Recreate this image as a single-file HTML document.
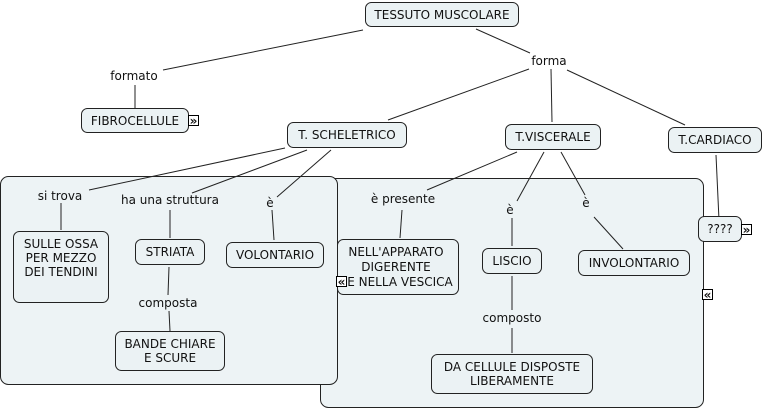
<!DOCTYPE html>
<html><head><meta charset="utf-8"><style>
body{margin:0;background:#fff;}
svg{display:block;font-family:"DejaVu Sans","Liberation Sans",sans-serif;font-size:12px;}
.n{fill:#ebf2f4;stroke:#222;stroke-width:1;}
.c{fill:#edf3f5;stroke:#222;stroke-width:1;}
line{stroke:#222;stroke-width:1;}
text{fill:#111;text-anchor:middle;}
.ic{fill:#fff;stroke:#000;stroke-width:1;}
.g{font-size:12px;font-weight:bold;}
</style></head><body>
<svg width="765" height="409" viewBox="0 0 765 409">
<rect class="c" x="320.5" y="178.5" width="383" height="229" rx="8"/>
<rect class="c" x="0.5" y="176.5" width="337" height="208" rx="8"/>
<g>
<line x1="363" y1="30" x2="163" y2="70"/>
<line x1="135" y1="85" x2="135" y2="108"/>
<line x1="476" y1="29" x2="530" y2="53"/>
<line x1="529" y1="69" x2="388" y2="120"/>
<line x1="551" y1="69" x2="552" y2="122"/>
<line x1="567" y1="70" x2="685" y2="125"/>
<line x1="285" y1="148" x2="89" y2="190"/>
<line x1="307" y1="150" x2="192" y2="193"/>
<line x1="331" y1="150" x2="277" y2="197"/>
<line x1="61" y1="203" x2="61" y2="230"/>
<line x1="170" y1="210" x2="170" y2="238"/>
<line x1="272" y1="210" x2="274" y2="240"/>
<line x1="169" y1="267" x2="168" y2="295"/>
<line x1="169" y1="311" x2="170" y2="331"/>
<line x1="517" y1="152" x2="427" y2="190"/>
<line x1="402" y1="210" x2="400" y2="238"/>
<line x1="544" y1="152" x2="517" y2="201"/>
<line x1="512" y1="218" x2="512" y2="246"/>
<line x1="561" y1="152" x2="585" y2="195"/>
<line x1="594" y1="217" x2="623" y2="249"/>
<line x1="512" y1="276" x2="512" y2="310"/>
<line x1="512" y1="328" x2="512" y2="353"/>
<line x1="716" y1="155" x2="719" y2="220"/>
</g>
<rect class="n" x="365.5" y="2.5" width="153" height="24" rx="6"/>
<text x="442" y="19">TESSUTO MUSCOLARE</text>
<text x="134" y="80">formato</text>
<rect class="n" x="81.5" y="108.5" width="107" height="24" rx="6"/>
<text x="135" y="125">FIBROCELLULE</text>
<rect class="ic" x="188.5" y="115.5" width="10" height="10"/><text class="g" x="193.5" y="125">»</text>
<text x="549" y="65">forma</text>
<rect class="n" x="287.5" y="122.5" width="119" height="25" rx="6"/>
<text x="347" y="139">T. SCHELETRICO</text>
<rect class="n" x="505.5" y="124.5" width="95" height="25" rx="6"/>
<text x="553" y="141">T.VISCERALE</text>
<rect class="n" x="668.5" y="127.5" width="93" height="25" rx="6"/>
<text x="715" y="144">T.CARDIACO</text>
<rect class="n" x="698.5" y="216.5" width="43" height="25" rx="6"/>
<text x="720" y="233">????</text>
<rect class="ic" x="741.5" y="224.5" width="10" height="10"/><text class="g" x="746.5" y="234">»</text>
<rect class="ic" x="702.5" y="289.5" width="10" height="10"/><text class="g" x="707.5" y="299">«</text>
<text x="60" y="200">si trova</text>
<text x="170" y="204">ha una struttura</text>
<text x="270" y="207">è</text>
<rect class="n" x="13.5" y="231.5" width="95" height="71" rx="6"/>
<text x="61" y="248">SULLE OSSA</text>
<text x="61" y="262">PER MEZZO</text>
<text x="61" y="276">DEI TENDINI</text>
<rect class="n" x="135.5" y="239.5" width="69" height="25" rx="6"/>
<text x="170" y="256">STRIATA</text>
<rect class="n" x="226.5" y="242.5" width="97" height="25" rx="6"/>
<text x="275" y="259">VOLONTARIO</text>
<text x="168" y="307">composta</text>
<rect class="n" x="115.5" y="331.5" width="109" height="39" rx="6"/>
<text x="170" y="348">BANDE CHIARE</text>
<text x="170" y="362">E SCURE</text>
<text x="403" y="203">è presente</text>
<rect class="n" x="337.5" y="239.5" width="121" height="55" rx="6"/>
<text x="396" y="256">NELL'APPARATO</text>
<text x="396" y="271">DIGERENTE</text>
<text x="400" y="286">E NELLA VESCICA</text>
<rect class="ic" x="336.5" y="276.5" width="10" height="10"/><text class="g" x="341.5" y="286">«</text>
<text x="510" y="214">è</text>
<rect class="n" x="482.5" y="248.5" width="59" height="25" rx="6"/>
<text x="512" y="265">LISCIO</text>
<text x="586" y="207">è</text>
<rect class="n" x="578.5" y="250.5" width="111" height="25" rx="6"/>
<text x="634" y="267">INVOLONTARIO</text>
<text x="512" y="322">composto</text>
<rect class="n" x="431.5" y="354.5" width="161" height="39" rx="6"/>
<text x="512" y="371">DA CELLULE DISPOSTE</text>
<text x="512" y="385">LIBERAMENTE</text>
</svg>
</body></html>
